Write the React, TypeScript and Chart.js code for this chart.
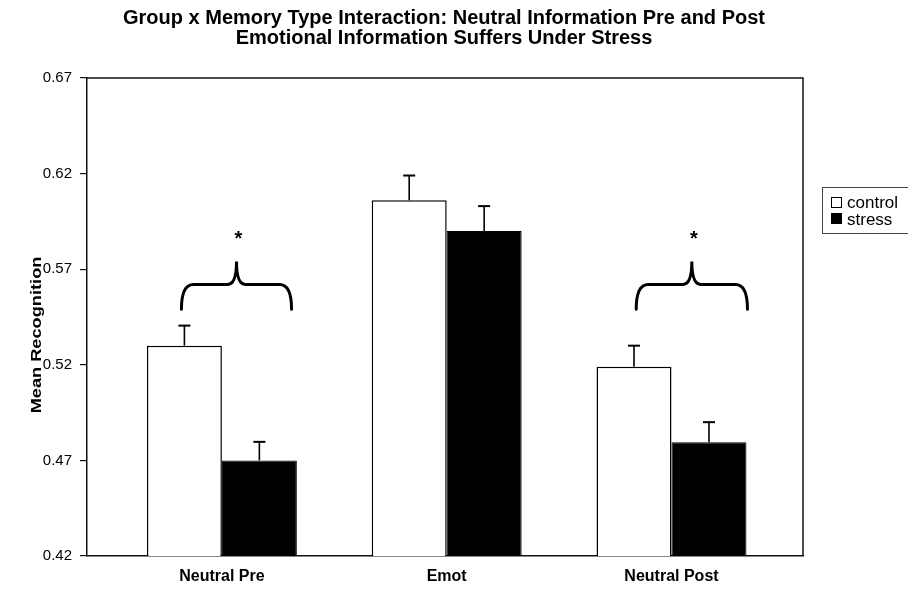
import React, { useEffect, useRef } from "react";
import { Chart, registerables } from "chart.js";

Chart.register(...registerables);

const titleLines = [
  "Group x Memory Type Interaction: Neutral Information Pre and Post",
  "Emotional Information Suffers Under Stress",
];
const yAxisTitle = "Mean Recognition";
const categories = ["Neutral Pre", "Emot", "Neutral Post"];
const seriesNames = ["control", "stress"];
const controlValues = [0.53, 0.606, 0.519];
const stressValues = [0.47, 0.59, 0.4795];
const controlErrors = [0.0105, 0.013, 0.011];
const stressErrors = [0.0097, 0.013, 0.0105];
const yTicks = [0.42, 0.47, 0.52, 0.57, 0.62, 0.67];

// significance braces (annotations, in data units)
const braceCategories = [0, 2];
const braceLeftOffset = [-0.18, -0.157];
const braceRightOffset = [0.31, 0.338];
const braceFootValue = 0.549;
const braceArmValue = 0.562;
const bracePeakValue = 0.574;
const starValue = 0.587;
const starText = "*";

const FONT = "'Liberation Sans', Arial, sans-serif";

const decorPlugin = {
  id: "decor",
  afterDatasetsDraw(chart: any) {
    const ctx = chart.ctx;
    const ys = chart.scales.y;
    const xs = chart.scales.x;
    const area = chart.chartArea;
    ctx.save();
    // error bars
    ctx.strokeStyle = "#000";
    ctx.lineWidth = 1.6;
    [
      [controlValues, controlErrors],
      [stressValues, stressErrors],
    ].forEach(([vals, errs], di) => {
      const meta = chart.getDatasetMeta(di);
      meta.data.forEach((bar: any, i: number) => {
        const base = ys.getPixelForValue(vals[i]);
        const top = ys.getPixelForValue(vals[i] + errs[i]);
        ctx.beginPath();
        ctx.moveTo(bar.x, base);
        ctx.lineTo(bar.x, top);
        ctx.stroke();
        ctx.beginPath();
        ctx.lineWidth = 2;
        ctx.moveTo(bar.x - 6, top);
        ctx.lineTo(bar.x + 6, top);
        ctx.stroke();
        ctx.lineWidth = 1.6;
      });
    });

    // frame (top & right)
    ctx.strokeStyle = "#111";
    ctx.lineWidth = 1.5;
    ctx.beginPath();
    ctx.moveTo(area.left, area.top);
    ctx.lineTo(area.right, area.top);
    ctx.lineTo(area.right, area.bottom);
    ctx.stroke();

    // braces
    ctx.lineWidth = 3;
    ctx.strokeStyle = "#000";
    ctx.lineCap = "round";
    braceCategories.forEach((c, k) => {
      const x0 = xs.getPixelForValue(c + braceLeftOffset[k]);
      const x1 = xs.getPixelForValue(c + braceRightOffset[k]);
      const xc = (x0 + x1) / 2;
      const yb = ys.getPixelForValue(braceFootValue);
      const yh = ys.getPixelForValue(braceArmValue);
      const yp = ys.getPixelForValue(bracePeakValue);
      const r = 12;
      const r2 = 9;
      ctx.beginPath();
      ctx.moveTo(x0, yb);
      ctx.quadraticCurveTo(x0, yh, x0 + r, yh);
      ctx.lineTo(xc - r2, yh);
      ctx.quadraticCurveTo(xc, yh, xc, yp);
      ctx.quadraticCurveTo(xc, yh, xc + r2, yh);
      ctx.lineTo(x1 - r, yh);
      ctx.quadraticCurveTo(x1, yh, x1, yb);
      ctx.stroke();
      ctx.fillStyle = "#000";
      ctx.font = `bold 20px ${FONT}`;
      ctx.textAlign = "center";
      ctx.textBaseline = "middle";
      ctx.fillText(starText, xc + 2, ys.getPixelForValue(starValue) + 3);
    });
    ctx.restore();
  },
  afterDraw(chart: any) {
    const ctx = chart.ctx;
    const area = chart.chartArea;
    ctx.save();
    ctx.fillStyle = "#000";
    // title
    ctx.font = `bold 20px ${FONT}`;
    ctx.textAlign = "center";
    ctx.textBaseline = "middle";
    const cx = (area.left + area.right) / 2 - 1;
    titleLines.forEach((t, i) => ctx.fillText(t, cx, 18 + i * 20));
    // y axis title
    ctx.save();
    ctx.translate(37.5, (area.top + area.bottom) / 2 + 18);
    ctx.rotate(-Math.PI / 2);
    ctx.scale(1.3, 1);
    ctx.font = `bold 14px ${FONT}`;
    ctx.fillText(yAxisTitle, 0, 0);
    ctx.restore();
    // legend
    const lx = area.right + 19;
    const ly = 187;
    ctx.strokeStyle = "#444";
    ctx.lineWidth = 1;
    ctx.strokeRect(lx + 0.5, ly + 0.5, 120, 46);
    ctx.font = `17px ${FONT}`;
    ctx.textAlign = "left";
    ctx.textBaseline = "alphabetic";
    seriesNames.forEach((name, i) => {
      const by = ly + 10 + i * 15;
      if (i === 0) {
        ctx.fillStyle = "#fff";
        ctx.fillRect(lx + 9.5, by + 0.5, 10, 10);
        ctx.strokeStyle = "#000";
        ctx.strokeRect(lx + 9.5, by + 0.5, 10, 10);
      } else {
        ctx.fillStyle = "#000";
        ctx.fillRect(lx + 9, by + 1, 11, 11);
      }
      ctx.fillStyle = "#000";
      ctx.fillText(name, lx + 25, by + 11 + i * 2);
    });
    ctx.restore();
  },
};

export default function App() {
  const ref = useRef<HTMLCanvasElement | null>(null);
  useEffect(() => {
    if (!ref.current) return;
    const chart = new Chart(ref.current, {
      type: "bar",
      data: {
        datasets: [
          {
            label: seriesNames[0],
            data: controlValues.map((y, i) => ({ x: i, y })),
            backgroundColor: "#fff",
            borderColor: "#000",
            borderWidth: 1.5,
          },
          {
            label: seriesNames[1],
            data: stressValues.map((y, i) => ({ x: i, y })),
            backgroundColor: "#000",
            borderColor: "#000",
            borderWidth: 1,
          },
        ],
      },
      options: {
        responsive: false,
        animation: false,
        categoryPercentage: 0.667,
        barPercentage: 1,
        layout: { padding: { top: 78, right: 105, bottom: 0, left: 0 } },
        plugins: {
          legend: { display: false },
          title: { display: false },
          tooltip: { enabled: false },
        },
        scales: {
          x: {
            type: "linear",
            offset: false,
            min: -0.6,
            max: 2.585,
            grid: { display: false, drawTicks: false },
            border: { display: true, color: "#111", width: 1.5 },
            afterBuildTicks: (s: any) => {
              s.ticks = categories.map((_, i) => ({ value: i }));
            },
            afterFit: (s: any) => {
              s.height = 35;
            },
            ticks: {
              autoSkip: false,
              maxRotation: 0,
              padding: 11,
              color: "#000",
              font: { family: FONT, size: 16, weight: "bold" },
              callback: (v: any) => categories[Math.round(Number(v))] ?? "",
            },
          },
          y: {
            min: 0.42,
            max: 0.67,
            grid: {
              drawOnChartArea: false,
              drawTicks: true,
              tickLength: 7,
              color: "#111",
              lineWidth: 1.2,
            },
            border: { display: true, color: "#111", width: 1.5 },
            afterBuildTicks: (s: any) => {
              s.ticks = yTicks.map((v) => ({ value: v }));
            },
            afterFit: (s: any) => {
              s.width = 87;
            },
            ticks: {
              padding: 8,
              color: "#000",
              font: { family: FONT, size: 15 },
              callback: (v: any) => Number(v).toFixed(2),
            },
          },
        },
      },
      plugins: [decorPlugin],
    } as any);
    return () => chart.destroy();
  }, []);
  return (
    <div style={{ position: "absolute", left: 0, top: 0, width: 908, height: 591, background: "#fff" }}>
      <canvas ref={ref} width={908} height={591} style={{ display: "block" }} />
    </div>
  );
}
